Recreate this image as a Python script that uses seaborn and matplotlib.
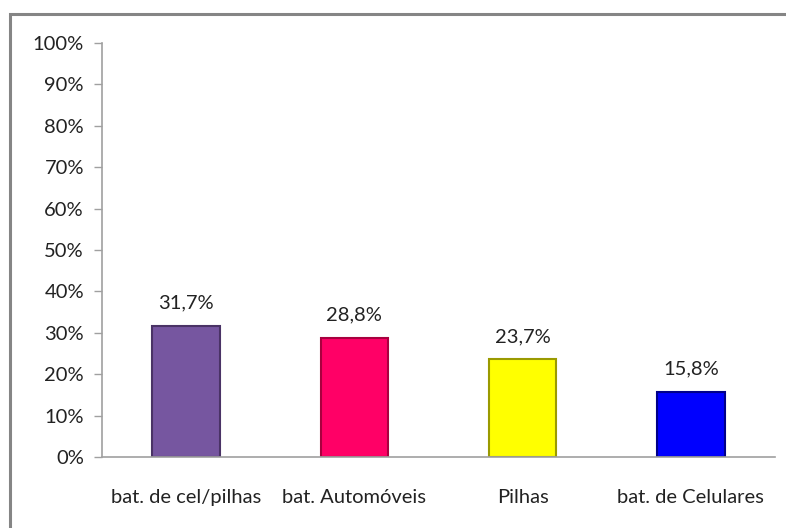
import matplotlib
matplotlib.use("Agg")
import matplotlib.pyplot as plt
import matplotlib.patches as mpatches
import seaborn as sns
import pandas as pd

# dados
categorias = ["bat. de cel/pilhas", "bat. Automóveis", "Pilhas", "bat. de Celulares"]
valores = [31.7, 28.8, 23.7, 15.8]
rotulos = ["31,7%", "28,8%", "23,7%", "15,8%"]
cores = ["#7656a0", "#ff0066", "#ffff00", "#0000ff"]
bordas = ["#4a3366", "#a8003f", "#9a9a00", "#00008a"]

df = pd.DataFrame({"categoria": categorias, "valor": valores})

sns.set_theme(style="white")
plt.rcParams["font.family"] = ["Lato", "DejaVu Sans"]

fig = plt.figure(figsize=(7.86, 5.28), dpi=100)
ax = fig.add_axes([0.1298, 0.1345, 0.8562, 0.7841])

# moldura externa (cortada à direita e embaixo)
fig.patches.append(mpatches.Rectangle((0.0127, -0.2), 1.2, 0.9735 + 0.2,
                                      transform=fig.transFigure, fill=False,
                                      edgecolor="#858585", linewidth=2.2))

sns.barplot(data=df, x="categoria", y="valor", hue="categoria",
            palette=cores, width=0.40, legend=False, ax=ax, saturation=1)

for barra, borda in zip(ax.patches, bordas):
    barra.set_edgecolor(borda)
    barra.set_linewidth(1.5)

for cont, rot in zip(ax.containers, rotulos):
    ax.bar_label(cont, labels=[rot], padding=10, fontsize=14.5, color="#222222")

ax.set_ylim(0, 100)
ax.set_xlim(-0.5, 3.5)
ax.set_yticks(range(0, 101, 10))
ax.set_yticklabels([f"{v}%" for v in range(0, 101, 10)])
ax.set_xlabel("")
ax.set_ylabel("")

for lado in ["top", "right"]:
    ax.spines[lado].set_visible(False)
for lado in ["left", "bottom"]:
    ax.spines[lado].set_color("#a0a0a0")
    ax.spines[lado].set_linewidth(1.2)

ax.set_xticks([-0.5, 0.5, 1.5, 2.5, 3.5], minor=True)
ax.tick_params(axis="x", which="major", length=0, pad=23, labelsize=14.5, labelcolor="#222222")
ax.tick_params(axis="x", which="minor", length=6, width=1, color="#a0a0a0", direction="out")
ax.tick_params(axis="y", length=6, width=1, color="#a0a0a0", direction="out",
               left=True, pad=7, labelsize=14.5, labelcolor="#222222")

fig.savefig("out.png", dpi=100)
plt.close(fig)
